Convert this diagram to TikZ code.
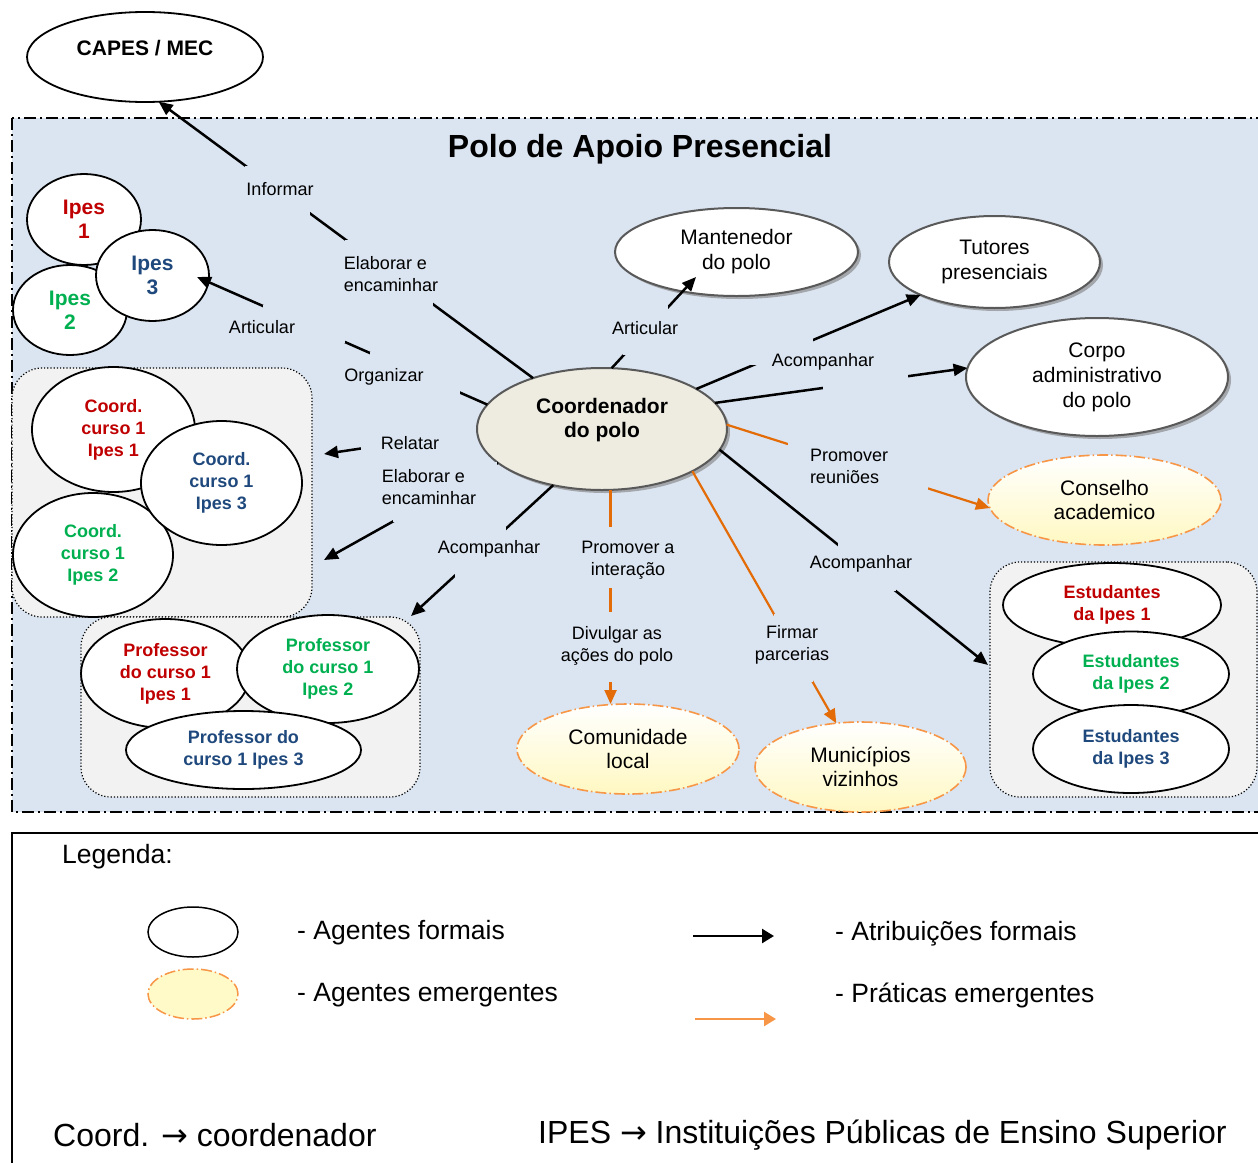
\documentclass[tikz,border=0pt]{standalone}
\usepackage{fontspec}
\setmainfont{Liberation Sans}
\newfontfamily\symfont{DejaVu Sans}
\usetikzlibrary{shapes.geometric, arrows.meta, shadows}

\definecolor{polobg}{HTML}{DBE5F1}
\definecolor{boxgray}{HTML}{F2F2F2}
\definecolor{tanfill}{HTML}{EEECE1}
\definecolor{rimgray}{HTML}{595959}
\definecolor{ipred}{HTML}{C00000}
\definecolor{ipgreen}{HTML}{00B050}
\definecolor{ipblue}{HTML}{1F497D}
\definecolor{emorange}{HTML}{E36C09}
\definecolor{lightorange}{HTML}{F79646}
\definecolor{paleyellow}{HTML}{FFF8C2}
\definecolor{legyellow}{HTML}{FFFAC8}

\tikzset{
  sz/.style 2 args={minimum width=#1pt, minimum height=#2pt},
  agent/.style={ellipse, draw=black, line width=1.8pt, fill=white,
    inner sep=0pt, outer sep=0pt, align=center},
  mainagent/.style={ellipse, draw=rimgray, line width=2pt, fill=white,
    inner sep=0pt, outer sep=0pt, align=center,
    drop shadow={shadow xshift=3pt, shadow yshift=-3pt, fill=black!45, opacity=.7},
    font=\fontsize{21}{25}\selectfont},
  emergent/.style={ellipse, draw=lightorange, line width=1.6pt,
    dash pattern=on 11pt off 3pt on 1.5pt off 3pt,
    top color=white, bottom color=paleyellow,
    inner sep=0pt, outer sep=0pt, align=center,
    font=\fontsize{21}{24}\selectfont},
  bigbold/.style={font=\bfseries\fontsize{21}{24}\selectfont},
  smallbold/.style={font=\bfseries\fontsize{18}{22}\selectfont},
  groupbox/.style={draw=black, line width=1.2pt, dotted, fill=boxgray,
    rounded corners=30pt, inner sep=0pt},
  formal/.style={draw=black, line width=2.5pt, -{Triangle[length=14pt,width=12pt]}},
  emerg/.style={draw=emorange, line width=2.2pt, -{Triangle[length=14pt,width=12pt]}},
  gap/.style={fill=polobg},
  lbl/.style={font=\fontsize{18}{22}\selectfont, inner sep=0pt, align=center},
  lgd/.style={font=\fontsize{26.5}{30}\selectfont, inner sep=0pt, anchor=west},
  abbr/.style={font=\fontsize{32}{36}\selectfont, inner sep=0pt, anchor=west},
}

\begin{document}
\begin{tikzpicture}[x=1pt, y=-1pt]
\useasboundingbox (0,0) rectangle (1258,1162);
\fill[white] (0,0) rectangle (1258,1162);

% --- the polo area -------------------------------------------------------
\draw[fill=polobg, line width=1.5pt, dash pattern=on 12pt off 4pt on 2pt off 4pt]
  (12,118) rectangle (1266,812);
\node[font=\bfseries\fontsize{32}{36}\selectfont] (title) at (640,149)
  {Polo de Apoio Presencial};

% CAPES / MEC, outside the polo
\node[agent, sz={236}{90}] (capes) at (145,57) {};
\node[bigbold] (capesT) at (145,48) {CAPES / MEC};

% groups
\node[groupbox, sz={300}{249}] (coordgroup) at (162,492.5) {};
\node[groupbox, sz={339}{180}] (profgroup) at (250.5,707) {};
\node[groupbox, sz={267}{235}] (studgroup) at (1123.5,679.5) {};

% institutions
\node[agent, sz={114}{91}, bigbold, text=ipred]   (ipes1) at (84,219.5)  {Ipes\\1};
\node[agent, sz={114}{90}, bigbold, text=ipgreen] (ipes2) at (70,310)    {Ipes\\2};
\node[agent, sz={113}{91}, bigbold, text=ipblue]  (ipes3) at (152.5,275.5) {Ipes\\3};

% course coordinators
\node[agent, sz={163}{125}, smallbold, text=ipred]   (cc1) at (113.5,429.5) {Coord.\\curso 1\\Ipes 1};
\node[agent, sz={160}{124}, smallbold, text=ipgreen] (cc2) at (93,555)      {Coord.\\curso 1\\Ipes 2};
\node[agent, sz={161}{124}, smallbold, text=ipblue]  (cc3) at (221.5,483)   {Coord.\\curso 1\\Ipes 3};

% teachers
\node[agent, sz={169}{109}, smallbold, text=ipred]   (pr1) at (165.5,673.5) {Professor\\do curso 1\\Ipes 1};
\node[agent, sz={182}{108}, smallbold, text=ipgreen] (pr2) at (328,669)     {Professor\\do curso 1\\Ipes 2};
\node[agent, sz={235}{78},  smallbold, text=ipblue]  (pr3) at (243.5,750)   {Professor do\\curso 1 Ipes 3};

% students
\node[agent, sz={218}{84}, smallbold, text=ipred]   (st1) at (1112,605) {Estudantes\\da Ipes 1};
\node[agent, sz={196}{85}, smallbold, text=ipgreen] (st2) at (1131,674) {Estudantes\\da Ipes 2};
\node[agent, sz={196}{88}, smallbold, text=ipblue]  (st3) at (1131,749) {Estudantes\\da Ipes 3};

% polo agents
\node[mainagent, fill=tanfill, sz={250}{122}] (co) at (602,429) {};
\node[bigbold, align=center] (coT) at (602,420) {Coordenador\\do polo};
\node[mainagent, sz={243}{88}]  (ma) at (736.5,252) {Mantenedor\\do polo};
\node[mainagent, sz={211}{92}]  (tu) at (994.5,262) {Tutores\\presenciais};
\node[mainagent, sz={262}{118}] (cp) at (1097,377)  {Corpo\\administrativo\\do polo};

% emergent agents
\node[emergent, sz={233}{90}] (cs) at (1104.5,500) {Conselho\\academico};
\node[emergent, sz={222}{90}] (cl) at (628,749)    {Comunidade\\local};
\node[emergent, sz={211}{90}] (mv) at (860.5,767)  {Municípios\\vizinhos};

% arrow ends that sit on group boxes or inside agents
\coordinate (ipes3tip) at (197,277);
\coordinate (matip) at (696,277);
\coordinate (ccRel) at (324,454);
\coordinate (ccElab) at (324,560);
\coordinate (prAcomp) at (411,616);
\coordinate (stAcomp) at (988,665);

% --- attributions ---------------------------------------------------------
\draw[formal] (co) -- (capes.-73);
\draw[formal] (co.168) -- (ipes3tip);
\draw[formal, shorten <=4pt] (co.181) -- (ccRel);
\draw[formal] (co.198) -- (ccElab);
\draw[formal] (co.229) -- (prAcomp);
\draw[formal] (co.81) -- (matip);
\draw[formal] (co.23) -- (tu.-156);
\draw[formal] (co.13) -- (cp.176);
\draw[formal] (co.-10) -- (stAcomp);
\draw[emerg] (co.2) -- (cs.184);
\draw[emerg] (co.-25) -- (mv.119);
\draw[emerg] (co.-82) -- (co.-82 |- cl.north);

% breaks in the connectors where the labels sit
\fill[gap] (345,240) rectangle (433,308);
\fill[gap] (245,166) rectangle (310,216);
\fill[gap] (370,352) rectangle (460,395);
\fill[gap] (263,305) rectangle (345,343);
\fill[gap] (361,426) rectangle (475,451);
\fill[gap] (393,462) rectangle (497,522);
\fill[gap] (455,527) rectangle (506,577);
\fill[gap] (623,305) rectangle (668,355);
\fill[gap] (750,338) rectangle (813,365);
\fill[gap] (823,374) rectangle (908,390);
\fill[gap] (788,440) rectangle (928,490);
\fill[gap] (838,543) rectangle (896,591);
\fill[gap] (774,614) rectangle (813,682);
\fill[gap] (598,527) rectangle (622,588);
\fill[gap] (598,612) rectangle (622,682);

% labels
\node[lbl] (lInformar) at (280,189) {Informar};
\node[lbl, align=left] (lElab1) at (391,274) {Elaborar e\\encaminhar};
\node[lbl] (lArt1) at (262,327) {Articular};
\node[lbl] (lOrg) at (384,377) {Organizar};
\node[lbl] (lRel) at (410,443) {Relatar};
\node[lbl, align=left] (lElab2) at (429,487) {Elaborar e\\encaminhar};
\node[lbl] (lAcomp1) at (489,549) {Acompanhar};
\node[lbl] (lProm) at (628,560) {Promover a\\interação};
\node[lbl] (lDiv) at (617,646) {Divulgar as\\ações do polo};
\node[lbl] (lFirm) at (792,645) {Firmar\\parcerias};
\node[lbl] (lAcomp2) at (861,564) {Acompanhar};
\node[lbl, align=left] (lReun) at (849,466) {Promover\\reuniões};
\node[lbl] (lAcomp3) at (823,362) {Acompanhar};
\node[lbl] (lArt2) at (645,328) {Articular};

% --- legend ---------------------------------------------------------------
\draw[line width=1.5pt] (1266,833) -- (12,833) -- (12,1168);
\node[lgd] (legT) at (62,857) {Legenda:};
\node[ellipse, draw=black, line width=1.5pt, fill=white, sz={90}{50}, inner sep=0pt] (legF) at (193,932) {};
\node[ellipse, draw=lightorange, line width=1.5pt, dash pattern=on 11pt off 3pt on 1.5pt off 3pt,
  fill=legyellow, sz={90}{50}, inner sep=0pt] (legE) at (193,994) {};
\node[lgd] (legFt) at (297,933) {- Agentes formais};
\node[lgd] (legEt) at (297,995) {- Agentes emergentes};
\coordinate (la1) at (693,936);
\coordinate (la2) at (774,936);
\coordinate (lb1) at (695,1019);
\coordinate (lb2) at (776,1019);
\draw[draw=black, line width=2.5pt, -{Triangle[length=12pt,width=14pt]}] (la1) -- (la2);
\draw[draw=lightorange, line width=2.5pt, -{Triangle[length=12pt,width=14pt]}] (lb1) -- (lb2);
\node[lgd] (legAt) at (835,934) {- Atribuições formais};
\node[lgd] (legPt) at (835,995) {- Práticas emergentes};
\node[abbr] (abCoord) at (53,1135) {Coord. {\symfont →} coordenador};
\node[abbr] (abIpes) at (538,1135) {IPES {\symfont →} Instituições Públicas de Ensino Superior};
\end{tikzpicture}
\end{document}
